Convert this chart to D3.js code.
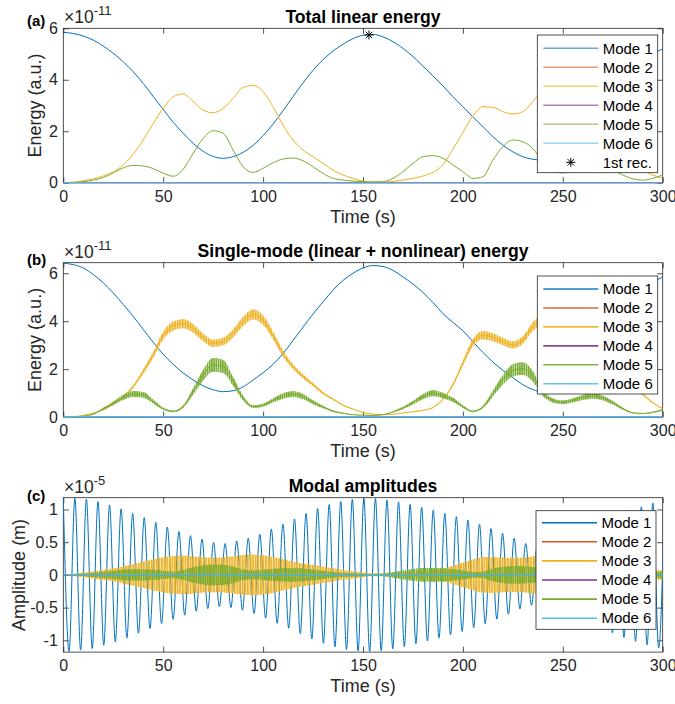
<!DOCTYPE html>
<html>
<head>
<meta charset="utf-8">
<script src="https://cdn.jsdelivr.net/npm/d3@7"></script>
<style>
  body { margin: 0; background: #fff; }
  svg { display: block; }
  text { font-family: "Liberation Sans", Arial, Helvetica, sans-serif; }
</style>
</head>
<body>
<svg id="fig" width="675" height="704"></svg>
<script>
// ---------------- data ----------------
const timeStep = 5;                       // s between energy / envelope samples
const timeTicks = [0, 50, 100, 150, 200, 250, 300];
const energyTicks = [0, 2, 4, 6];
const ampTicks = [-1, -0.5, 0, 0.5, 1];
const ampTickLabels = ["-1", "-0.5", "0", "0.5", "1"];
const modeNames = ["Mode 1", "Mode 2", "Mode 3", "Mode 4", "Mode 5", "Mode 6"];
const modeColors = ["#0072BD", "#D95319", "#EDB120", "#7E2F8E", "#77AC30", "#4DBEEE"];

// modes 2, 4 and 6 stay at zero over the whole record
const flatTimes = [0, 300];
const flatValues = [0, 0];

// (a) total linear energy, x1e-11 a.u.
const linMode1 = [5.84, 5.8, 5.7, 5.54, 5.31, 5.03, 4.7, 4.31, 3.86, 3.35,
  2.85, 2.35, 1.92, 1.53, 1.22, 1.02, 0.95, 1.01, 1.18, 1.45,
  1.83, 2.28, 2.8, 3.35, 3.88, 4.37, 4.78, 5.12, 5.38, 5.6,
  5.73, 5.76, 5.67, 5.48, 5.22, 4.9, 4.53, 4.15, 3.76, 3.34,
  2.95, 2.56, 2.18, 1.79, 1.46, 1.2, 1.01, 0.91, 0.88, 0.95,
  1.15, 1.45, 1.85, 2.3, 2.82, 3.35, 3.85, 4.3, 4.7, 5.0, 5.2];
const linMode3 = [0, 0.02, 0.07, 0.15, 0.26, 0.43, 0.69, 1.11, 1.66, 2.3,
  2.89, 3.34, 3.45, 3.15, 2.82, 2.72, 2.89, 3.28, 3.7, 3.78,
  3.54, 2.95, 2.24, 1.66, 1.27, 1.01, 0.75, 0.49, 0.3, 0.17,
  0.06, 0.02, 0.02, 0.05, 0.1, 0.17, 0.26, 0.4, 0.7, 1.3,
  1.95, 2.6, 2.95, 2.93, 2.76, 2.67, 2.76, 3.15, 3.6, 3.8,
  3.7, 3.2, 2.6, 2.0, 1.55, 1.25, 1.0, 0.75, 0.5, 0.3, 0.17];
const linMode5 = [0, 0.01, 0.04, 0.1, 0.2, 0.38, 0.58, 0.67, 0.65, 0.55,
  0.37, 0.25, 0.52, 1.14, 1.72, 2.02, 1.92, 1.27, 0.62, 0.4,
  0.56, 0.78, 0.92, 0.96, 0.85, 0.62, 0.36, 0.17, 0.1, 0.06,
  0.04, 0.03, 0.04, 0.17, 0.43, 0.75, 1.01, 1.05, 0.95, 0.69,
  0.43, 0.17, 0.23, 0.88, 1.4, 1.66, 1.59, 1.33, 0.8, 0.45,
  0.38, 0.45, 0.6, 0.7, 0.65, 0.5, 0.3, 0.15, 0.1, 0.17, 0.3];
const firstRecTime = 153;
const firstRecEnergy = 5.74;

// (b) single-mode (linear + nonlinear) energy, x1e-11 a.u.
const smMode1 = [6.42, 6.36, 6.22, 5.95, 5.6, 5.18, 4.7, 4.2, 3.66, 3.12,
  2.62, 2.2, 1.84, 1.55, 1.3, 1.14, 1.06, 1.1, 1.26, 1.55,
  1.85, 2.2, 2.65, 3.2, 3.75, 4.3, 4.8, 5.3, 5.7, 6.0,
  6.22, 6.32, 6.28, 6.12, 5.85, 5.55, 5.2, 4.78, 4.32, 3.95,
  3.6, 3.15, 2.7, 2.3, 1.95, 1.65, 1.35, 1.15, 1.05, 1.07,
  1.25, 1.6, 2.05, 2.55, 3.15, 3.7, 4.3, 4.85, 5.3, 5.6, 5.85];
const smMode3 = [0, 0.02, 0.07, 0.17, 0.3, 0.54, 0.86, 1.28, 1.9, 2.6,
  3.4, 3.8, 3.9, 3.7, 3.32, 3.08, 3.15, 3.5, 3.99, 4.28,
  4.05, 3.4, 2.65, 2.1, 1.7, 1.35, 1.0, 0.75, 0.5, 0.33,
  0.2, 0.12, 0.1, 0.12, 0.17, 0.22, 0.28, 0.4, 0.75, 1.35,
  2.25, 3.1, 3.42, 3.33, 3.15, 3.01, 3.22, 3.78, 4.1, 4.3,
  4.25, 3.8, 3.2, 2.6, 2.1, 1.75, 1.5, 1.25, 0.95, 0.6, 0.35];
const smMode5 = [0, 0.01, 0.04, 0.12, 0.35, 0.58, 0.82, 0.96, 0.93, 0.65,
  0.35, 0.24, 0.44, 1.07, 1.76, 2.18, 2.11, 1.49, 0.79, 0.44,
  0.5, 0.7, 0.88, 0.96, 0.85, 0.62, 0.42, 0.25, 0.16, 0.1,
  0.08, 0.07, 0.1, 0.22, 0.38, 0.6, 0.85, 1.0, 0.9, 0.72,
  0.44, 0.24, 0.42, 0.98, 1.55, 1.95, 2.02, 1.7, 1.0, 0.7,
  0.62, 0.7, 0.82, 0.88, 0.8, 0.6, 0.35, 0.18, 0.15, 0.2, 0.3];

// (c) modal amplitudes, x1e-5 m
const mode1HalfPeriod = 2.893;            // s between successive extrema of mode 1
const mode1Peaks = [1.17, 1.17, 1.16, 1.12, 1.07, 1.01, 0.94, 0.875, 0.805, 0.73,
  0.665, 0.6, 0.545, 0.495, 0.48, 0.52, 0.56, 0.62, 0.7, 0.775,
  0.855, 0.94, 1.015, 1.075, 1.125, 1.155, 1.168, 1.168, 1.145, 1.115,
  1.078, 1.03, 0.99, 0.94, 0.89, 0.84, 0.775, 0.71, 0.635, 0.56,
  0.48, 0.45, 0.47, 0.53, 0.61, 0.69, 0.77, 0.85, 0.92, 0.99,
  1.04, 1.1, 1.13];
const mode1Troughs = [-1.17, -1.15, -1.125, -1.075, -1.025, -0.965, -0.89, -0.82, -0.745, -0.68,
  -0.615, -0.555, -0.515, -0.485, -0.5, -0.54, -0.59, -0.66, -0.74, -0.815,
  -0.9, -0.98, -1.045, -1.1, -1.14, -1.16, -1.17, -1.157, -1.13, -1.097,
  -1.055, -1.01, -0.965, -0.915, -0.865, -0.81, -0.745, -0.675, -0.6, -0.52,
  -0.465, -0.46, -0.5, -0.57, -0.65, -0.73, -0.81, -0.885, -0.955, -1.015,
  -1.07, -1.115];
// envelopes of the fast modes 3 and 5
const mode3Envelope = [0, 0.015, 0.035, 0.055, 0.075, 0.1, 0.13, 0.165, 0.2, 0.24,
  0.27, 0.29, 0.295, 0.285, 0.27, 0.265, 0.27, 0.285, 0.305, 0.31,
  0.3, 0.275, 0.24, 0.205, 0.175, 0.15, 0.125, 0.1, 0.075, 0.055,
  0.035, 0.02, 0.02, 0.03, 0.04, 0.05, 0.06, 0.075, 0.1, 0.14,
  0.19, 0.235, 0.27, 0.275, 0.265, 0.26, 0.265, 0.285, 0.305, 0.31,
  0.305, 0.285, 0.255, 0.225, 0.195, 0.17, 0.15, 0.13, 0.105, 0.085, 0.065];
const mode5Envelope = [0, 0.01, 0.02, 0.033, 0.047, 0.065, 0.08, 0.086, 0.085, 0.078,
  0.064, 0.052, 0.076, 0.12, 0.145, 0.16, 0.155, 0.125, 0.083, 0.066,
  0.078, 0.093, 0.1, 0.103, 0.097, 0.083, 0.063, 0.043, 0.033, 0.026,
  0.021, 0.018, 0.021, 0.043, 0.069, 0.091, 0.105, 0.107, 0.102, 0.087,
  0.069, 0.043, 0.05, 0.098, 0.124, 0.135, 0.132, 0.121, 0.094, 0.07,
  0.065, 0.07, 0.081, 0.088, 0.085, 0.074, 0.057, 0.041, 0.033, 0.043, 0.057];

// ---------------- layout ----------------
const svg = d3.select("#fig");
const X0 = 63.3, X1 = 662.7, H = 154.4;
const x = d3.scaleLinear().domain([0, 300]).range([X0, X1]);
const ink = "#262626";

const defs = svg.append("defs");
function stripes(id, color, w, period, bgOpacity) {
  const p = defs.append("pattern").attr("id", id)
    .attr("patternUnits", "userSpaceOnUse").attr("width", period).attr("height", 10);
  p.append("rect").attr("width", period).attr("height", 10).attr("fill", color).attr("opacity", bgOpacity);
  p.append("rect").attr("width", w).attr("height", 10).attr("fill", color);
}
stripes("fuzz3", modeColors[2], 1.5, 2.6, 0.35);
stripes("fuzz5", modeColors[4], 1.4, 2.2, 0.35);

function panel(id, top, yDomain) {
  const y = d3.scaleLinear().domain(yDomain).range([top + H, top]);
  defs.append("clipPath").attr("id", id).append("rect")
    .attr("x", X0).attr("y", top - 2).attr("width", X1 - X0).attr("height", H + 4);
  return { id, top, y };
}

function axes(p, yTicks, yTickFmt, yTitle, yTitleX, title, letter, letterY, expo) {
  const bottom = p.top + H;
  const g = svg.append("g").attr("color", ink);
  const style = sel => {
    sel.select(".domain").remove();
    sel.attr("font-size", 16);
    sel.selectAll(".tick line").attr("stroke-width", 0.8);
    sel.selectAll(".tick text").attr("fill", ink);
  };
  g.append("g").attr("transform", `translate(0,${bottom})`)
    .call(d3.axisBottom(x).tickValues(timeTicks).tickSize(-5.5).tickPadding(8)).call(style);
  g.append("g").attr("transform", `translate(0,${p.top})`)
    .call(d3.axisTop(x).tickValues(timeTicks).tickSize(-5.5).tickFormat(() => "")).call(style);
  g.append("g").attr("transform", `translate(${X0},0)`)
    .call(d3.axisLeft(p.y).tickValues(yTicks).tickSize(-5.5).tickPadding(5.5).tickFormat(yTickFmt)).call(style);
  g.append("g").attr("transform", `translate(${X1},0)`)
    .call(d3.axisRight(p.y).tickValues(yTicks).tickSize(-5.5).tickFormat(() => "")).call(style);
  g.append("rect").attr("x", X0).attr("y", p.top).attr("width", X1 - X0).attr("height", H)
    .attr("fill", "none").attr("stroke", ink).attr("stroke-width", 0.8);

  svg.append("text").attr("x", (X0 + X1) / 2).attr("y", bottom + 40)
    .attr("text-anchor", "middle").attr("font-size", 18).attr("fill", ink).text("Time (s)");
  svg.append("text").attr("transform", `translate(${yTitleX},${p.top + H / 2}) rotate(-90)`)
    .attr("text-anchor", "middle").attr("font-size", 18).attr("fill", ink).text(yTitle);
  svg.append("text").attr("x", (X0 + X1) / 2).attr("y", p.top - 5.5)
    .attr("text-anchor", "middle").attr("font-size", 17.6).attr("font-weight", "bold")
    .attr("fill", "#000").text(title);
  svg.append("text").attr("x", 27).attr("y", letterY)
    .attr("font-size", 15).attr("font-weight", "bold").attr("fill", "#000").text(letter);
  const ex = svg.append("text").attr("x", 64).attr("y", p.top - 5)
    .attr("font-size", 17.5).attr("fill", ink);
  ex.append("tspan").text("\u00d710");
  ex.append("tspan").attr("font-size", 13).attr("dy", -8).text(expo);
}

function line(p, times, values, color, width) {
  return svg.append("path")
    .datum(times.map((t, i) => [t, values[i]]))
    .attr("clip-path", `url(#${p.id})`)
    .attr("fill", "none").attr("stroke", color).attr("stroke-width", width)
    .attr("stroke-linejoin", "round")
    .attr("d", d3.line().x(d => x(d[0])).y(d => p.y(d[1])).curve(d3.curveMonotoneX));
}
function band(p, times, lo, hi, fill) {
  return svg.append("path")
    .datum(times.map((t, i) => [t, lo[i], hi[i]]))
    .attr("clip-path", `url(#${p.id})`)
    .attr("fill", fill).attr("stroke", "none")
    .attr("d", d3.area().x(d => x(d[0])).y0(d => p.y(d[1])).y1(d => p.y(d[2])).curve(d3.curveMonotoneX));
}
function asterisk(cx, cy, r) {
  const d = r * 0.72;
  svg.append("path")
    .attr("d", `M${cx - r},${cy}H${cx + r}M${cx},${cy - r}V${cy + r}` +
      `M${cx - d},${cy - d}L${cx + d},${cy + d}M${cx - d},${cy + d}L${cx + d},${cy - d}`)
    .attr("stroke", "#000").attr("stroke-width", 1).attr("fill", "none");
}
function legend(box, firstY, step, entries) {
  svg.append("rect").attr("x", box.x).attr("y", box.y).attr("width", box.w).attr("height", box.h)
    .attr("fill", "#fff").attr("stroke", ink).attr("stroke-width", 0.8);
  entries.forEach((e, i) => {
    const cy = firstY + i * step;
    if (e.marker) {
      asterisk(box.x + 33.5, cy, 4.5);
    } else {
      svg.append("line").attr("x1", box.x + 6).attr("x2", box.x + 61).attr("y1", cy).attr("y2", cy)
        .attr("stroke", e.color).attr("stroke-opacity", e.opacity).attr("stroke-width", 1.6);
    }
    svg.append("text").attr("x", box.x + 65.4).attr("y", cy).attr("dy", "0.35em")
      .attr("font-size", 15).attr("fill", "#000").text(e.name);
  });
}

const energyTimes = linMode1.map((_, i) => i * timeStep);
const envTimes = mode3Envelope.map((_, i) => i * timeStep);

// ---------------- (a) total linear energy ----------------
const pa = panel("clipA", 28.3, [0, 6]);
axes(pa, energyTicks, d3.format("d"), "Energy (a.u.)", 41, "Total linear energy", "(a)", 25.5, "-11");
const linSeries = [linMode1, null, linMode3, null, linMode5, null];
linSeries.forEach((s, i) => {
  if (s) line(pa, energyTimes, s, modeColors[i], 1);
  else line(pa, flatTimes, flatValues, modeColors[i], 1);
});
asterisk(x(firstRecTime), pa.y(firstRecEnergy), 4.5);
legend({ x: 537.3, y: 35, w: 120.4, h: 137.7 }, 48.3, 19,
  modeNames.map((n, i) => ({ name: n, color: modeColors[i], opacity: 0.6 }))
    .concat([{ name: "1st rec.", marker: true }]));

// ---------------- (b) single-mode energy ----------------
const pb = panel("clipB", 262.7, [0, 6.44]);
axes(pb, energyTicks, d3.format("d"), "Energy (a.u.)", 41, "Single-mode (linear + nonlinear) energy", "(b)", 265, "-11");
const fuzz3 = 0.05, fuzz5 = 0.13;     // relative width of the fast ripple on modes 3 and 5
line(pb, energyTimes, smMode1, modeColors[0], 1);
line(pb, flatTimes, flatValues, modeColors[1], 1);
band(pb, energyTimes, smMode3.map(v => v * (1 - fuzz3)), smMode3.map(v => v * (1 + fuzz3)), "url(#fuzz3)");
line(pb, energyTimes, smMode3, modeColors[2], 1);
line(pb, flatTimes, flatValues, modeColors[3], 1);
band(pb, energyTimes, smMode5.map(v => v * (1 - fuzz5)), smMode5.map(v => v * (1 + fuzz5)), "url(#fuzz5)");
line(pb, energyTimes, smMode5, modeColors[4], 1);
line(pb, flatTimes, flatValues, modeColors[5], 1.5);
legend({ x: 537.3, y: 276, w: 120.4, h: 118 }, 289, 18.95,
  modeNames.map((n, i) => ({ name: n, color: modeColors[i], opacity: 0.9 })));

// ---------------- (c) modal amplitudes ----------------
const pc = panel("clipC", 497.7, [-1.18, 1.18]);
axes(pc, ampTicks, (d, i) => ampTickLabels[i], "Amplitude (m)", 25, "Modal amplitudes", "(c)", 501, "-5");
const m1Times = [], m1Values = [];
mode1Peaks.forEach((v, k) => {
  m1Times.push(2 * k * mode1HalfPeriod); m1Values.push(v);
  if (k < mode1Troughs.length) {
    m1Times.push((2 * k + 1) * mode1HalfPeriod); m1Values.push(mode1Troughs[k]);
  }
});
line(pc, m1Times, m1Values, modeColors[0], 1);
line(pc, flatTimes, flatValues, modeColors[1], 1);
band(pc, envTimes, mode3Envelope.map(v => -v), mode3Envelope, "url(#fuzz3)");
line(pc, flatTimes, flatValues, modeColors[3], 1);
band(pc, envTimes, mode5Envelope.map(v => -v), mode5Envelope, "url(#fuzz5)");
line(pc, flatTimes, flatValues, modeColors[5], 1.3);
legend({ x: 536, y: 510.7, w: 120, h: 118.6 }, 522.7, 19.1,
  modeNames.map((n, i) => ({ name: n, color: modeColors[i], opacity: 1 })));
</script>
</body>
</html>
